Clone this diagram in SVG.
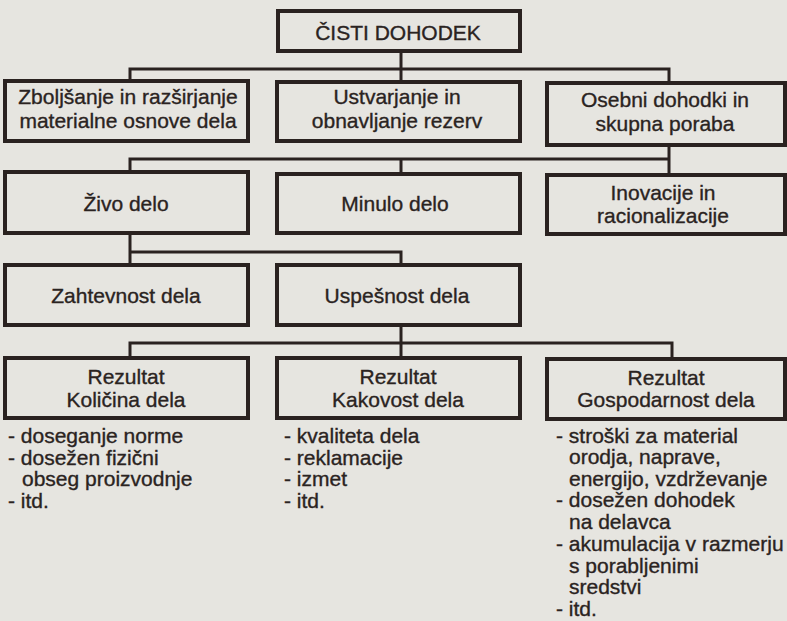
<svg xmlns="http://www.w3.org/2000/svg" width="787" height="621" viewBox="0 0 787 621">
<style>
.box{fill:none;stroke:#2a2220;stroke-width:4;stroke-linejoin:miter}
.con{fill:none;stroke:#2a2220;stroke-width:3;stroke-linecap:square}
text{font-family:"Liberation Sans",Arial,sans-serif;font-size:21px;fill:#2a2321;stroke:#2a2321;stroke-width:0.35}
.c{text-anchor:middle}
</style>
<rect x="0" y="0" width="787" height="621" fill="#e6e5e0"/>
<g id="connectors">
<path class="con" d="M401,51 V81 M130,69 H669 M130,69 V80 M669,69 V82"/>
<path class="con" d="M669,145 V174 M130,159 H669 M130,159 V171 M401,159 V173"/>
<path class="con" d="M130,233 V264 M130,252 H401 M401,252 V264"/>
<path class="con" d="M401,325 V357 M130,343 H672 M130,343 V357 M672,343 V358"/>
</g>
<g id="cisti-dohodek">
<rect class="box" x="278" y="11" width="242" height="40"/>
<text class="c" x="398" y="40">ČISTI DOHODEK</text>
</g>
<g id="zboljsanje">
<rect class="box" x="5" y="81" width="243" height="60"/>
<text class="c" x="128" y="104">Zboljšanje in razširjanje</text>
<text class="c" x="128" y="128">materialne osnove dela</text>
</g>
<g id="ustvarjanje">
<rect class="box" x="277" y="82" width="243" height="59"/>
<text class="c" x="397" y="104">Ustvarjanje in</text>
<text class="c" x="397" y="128">obnavljanje rezerv</text>
</g>
<g id="osebni">
<rect class="box" x="547" y="83" width="238" height="62"/>
<text class="c" x="665" y="107">Osebni dohodki in</text>
<text class="c" x="665" y="131">skupna poraba</text>
</g>
<g id="zivo">
<rect class="box" x="5" y="172" width="243" height="61"/>
<text class="c" x="126" y="211">Živo delo</text>
</g>
<g id="minulo">
<rect class="box" x="277" y="174" width="243" height="59"/>
<text class="c" x="395" y="211">Minulo delo</text>
</g>
<g id="inovacije">
<rect class="box" x="547" y="175" width="238" height="59"/>
<text class="c" x="663" y="200">Inovacije in</text>
<text class="c" x="663" y="223">racionalizacije</text>
</g>
<g id="zahtevnost">
<rect class="box" x="5" y="265" width="243" height="60"/>
<text class="c" x="126" y="303">Zahtevnost dela</text>
</g>
<g id="uspesnost">
<rect class="box" x="277" y="265" width="243" height="60"/>
<text class="c" x="397" y="303">Uspešnost dela</text>
</g>
<g id="kolicina">
<rect class="box" x="5" y="358" width="243" height="60"/>
<text class="c" x="126" y="384">Rezultat</text>
<text class="c" x="126" y="407">Količina dela</text>
</g>
<g id="kakovost">
<rect class="box" x="277" y="358" width="243" height="60"/>
<text class="c" x="398" y="384">Rezultat</text>
<text class="c" x="398" y="407">Kakovost dela</text>
</g>
<g id="gospodarnost">
<rect class="box" x="547" y="359" width="238" height="60"/>
<text class="c" x="666" y="385">Rezultat</text>
<text class="c" x="666" y="407">Gospodarnost dela</text>
</g>
<g id="list-kolicina">
<text x="8" y="443">- doseganje norme</text>
<text x="8" y="465">- dosežen fizični</text>
<text x="22" y="486">obseg proizvodnje</text>
<text x="8" y="508">- itd.</text>
</g>
<g id="list-kakovost">
<text x="284" y="443">- kvaliteta dela</text>
<text x="284" y="465">- reklamacije</text>
<text x="284" y="486">- izmet</text>
<text x="284" y="508">- itd.</text>
</g>
<g id="list-gospodarnost">
<text x="556" y="443">- stroški za material</text>
<text x="569" y="464">orodja, naprave,</text>
<text x="569" y="486">energijo, vzdrževanje</text>
<text x="556" y="507">- dosežen dohodek</text>
<text x="569" y="529">na delavca</text>
<text x="556" y="551">- akumulacija v razmerju</text>
<text x="569" y="573">s porabljenimi</text>
<text x="569" y="594">sredstvi</text>
<text x="556" y="616">- itd.</text>
</g>
</svg>
